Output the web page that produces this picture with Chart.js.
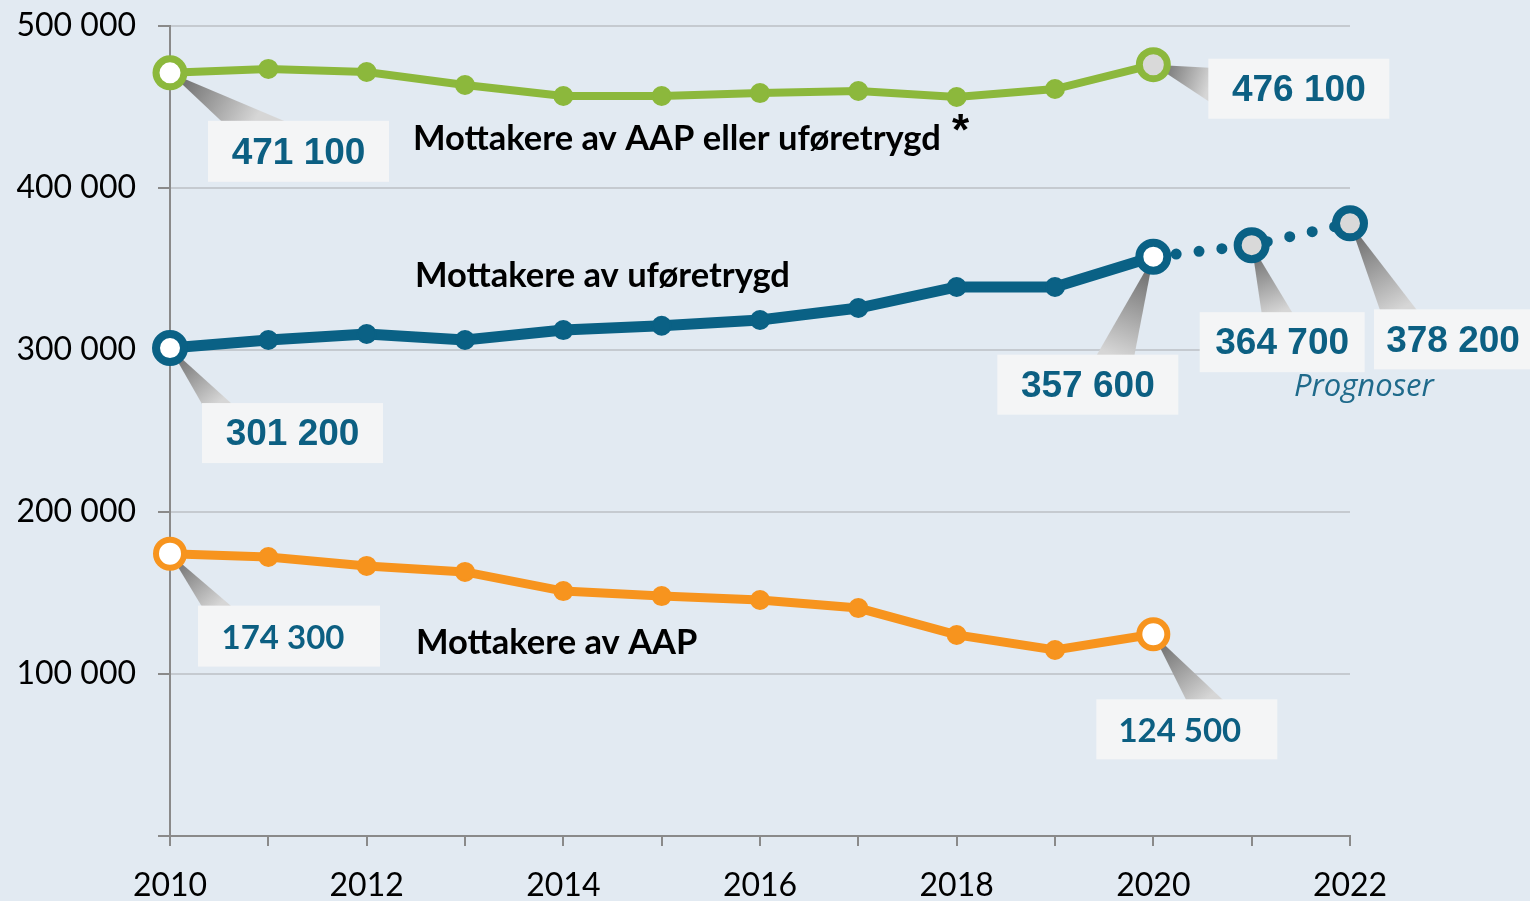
<!DOCTYPE html>
<html lang="no">
<head>
<meta charset="utf-8">
<title>Mottakere av AAP og uføretrygd</title>
<script src="https://cdn.jsdelivr.net/npm/chart.js@4.4.1/dist/chart.umd.min.js"></script>
<style>
  html, body { margin: 0; padding: 0; background: #e2eaf2; }
  #wrap { width: 1530px; height: 901px; position: relative; }
</style>
</head>
<body>
<div id="wrap"><canvas id="chart"></canvas></div>
<script>
// ===== Data =====
const years = ['2010', '2011', '2012', '2013', '2014', '2015', '2016', '2017', '2018', '2019', '2020', '2021', '2022'];
const aapEllerUfore = [471100, 473500, 471600, 463600, 456800, 456800, 458600, 459900, 456200, 461100, 476100];
const uforetrygd = [301200, 306200, 309900, 306200, 312300, 315000, 318500, 325900, 338900, 338900, 357600];
const prognose = [null, null, null, null, null, null, null, null, null, null, 357600, 364700, 378200];
const aap = [174300, 172200, 166700, 163000, 151200, 148100, 145700, 140700, 124100, 114800, 124500];
const yTicks = [0, 100000, 200000, 300000, 400000, 500000];

const GREEN = '#8cb83c';
const BLUE = '#0a6185';
const ORANGE = '#f7941e';
const VALUE_TEXT = '#0c5f82';

const fmt = v => String(v).replace(/\B(?=(\d{3})+(?!\d))/g, ' ');

// per-point marker styling: hollow rings at the ends, filled dots between
function ends(arr, first, last, mid) {
    return arr.map((v, i) => i === 0 ? first : (i === arr.length - 1 ? last : mid));
}

// ===== Callouts (boxes with a pointer towards the marker) =====
// box: offset from the marker [dx, dy, w, h]; base: pointer foot along the box edge
const callouts = [
    { ds: 0, i: 0,  box: [38, 48, 181, 61],   edge: 'top',  base: [14, 78], font: 'bold 37px "Liberation Sans"' },
    { ds: 0, i: 10, box: [55, -6, 181, 60],   edge: 'left', base: [9, 43],  font: 'bold 37px "Liberation Sans"' },
    { ds: 1, i: 0,  box: [32, 55, 181, 60],   edge: 'top',  base: [0, 30],  font: 'bold 37px "Liberation Sans"' },
    { ds: 1, i: 10, box: [-156, 98, 181, 60], edge: 'top',  base: [99, 137], font: 'bold 37px "Liberation Sans"' },
    { ds: 2, i: 11, box: [-52, 67, 165, 60],  edge: 'top',  base: [62, 93], font: 'bold 37px "Liberation Sans"' },
    { ds: 2, i: 12, box: [24, 86, 158, 60],   edge: 'top',  base: [6, 43],  font: 'bold 37px "Liberation Sans"' },
    { ds: 3, i: 0,  box: [28, 52, 182, 61],   edge: 'top',  base: [4, 34],  font: 'bold 33px Lato', dx: -6 },
    { ds: 3, i: 10, box: [-57, 65, 181, 60],  edge: 'top',  base: [90, 127], font: 'bold 33px Lato', dx: -7 }
];

const calloutPlugin = {
    id: 'callouts',
    beforeDatasetsDraw(chart) {
        const ctx = chart.ctx;
        ctx.save();
        callouts.forEach(c => {
            const pt = chart.getDatasetMeta(c.ds).data[c.i];
            const bx = pt.x + c.box[0], by = pt.y + c.box[1];
            const [w, h] = [c.box[2], c.box[3]];
            let b1, b2;
            if (c.edge === 'top') {
                b1 = [bx + c.base[0], by + 1];
                b2 = [bx + c.base[1], by + 1];
            } else {
                b1 = [bx + 1, by + c.base[0]];
                b2 = [bx + 1, by + c.base[1]];
            }
            const mx = (b1[0] + b2[0]) / 2, my = (b1[1] + b2[1]) / 2;
            const grad = ctx.createLinearGradient(pt.x, pt.y, mx, my);
            grad.addColorStop(0, '#5f5f5f');
            grad.addColorStop(1, '#d6d6d6');
            ctx.fillStyle = grad;
            ctx.beginPath();
            ctx.moveTo(pt.x, pt.y);
            ctx.lineTo(b1[0], b1[1]);
            ctx.lineTo(b2[0], b2[1]);
            ctx.closePath();
            ctx.fill();

            ctx.fillStyle = '#f4f5f6';
            ctx.fillRect(bx, by, w, h);

            const value = chart.data.datasets[c.ds].data[c.i];
            ctx.font = c.font;
            ctx.fillStyle = VALUE_TEXT;
            ctx.textAlign = 'center';
            ctx.textBaseline = 'middle';
            ctx.fillText(fmt(value), bx + w / 2 + (c.dx || 0), by + h / 2 + 2);
        });
        ctx.restore();
    },
    afterDatasetsDraw(chart) {
        const ctx = chart.ctx;
        ctx.save();
        ctx.fillStyle = '#000';
        ctx.textBaseline = 'middle';
        ctx.textAlign = 'left';
        ctx.font = 'bold 34.5px Lato';
        ctx.fillText('Mottakere av AAP eller uføretrygd', 413, 139);
        ctx.fillText('Mottakere av uføretrygd', 415, 276);
        ctx.fillText('Mottakere av AAP', 416, 643);
        ctx.textBaseline = 'alphabetic';
        ctx.font = 'bold 44px "Liberation Sans"';
        ctx.fillText('*', 952, 145);
        ctx.textBaseline = 'middle';
        ctx.font = 'italic 31px "Open Sans"';
        ctx.fillStyle = '#1f6a8b';
        ctx.fillText('Prognoser', 1294, 387);
        ctx.restore();
    }
};

Chart.defaults.font.family = 'Lato';
Chart.defaults.color = '#000';

new Chart(document.getElementById('chart').getContext('2d'), {
    type: 'line',
    data: {
        labels: years,
        datasets: [
            {
                label: 'Mottakere av AAP eller uføretrygd',
                data: aapEllerUfore,
                borderColor: GREEN,
                borderWidth: 8,
                pointBorderColor: GREEN,
                pointRadius: ends(aapEllerUfore, 14, 14, 9),
                pointBorderWidth: ends(aapEllerUfore, 7, 7, 2),
                pointBackgroundColor: ends(aapEllerUfore, '#ffffff', '#d9d9d9', GREEN),
            },
            {
                label: 'Mottakere av uføretrygd',
                data: uforetrygd,
                borderColor: BLUE,
                borderWidth: 11,
                pointBorderColor: BLUE,
                pointRadius: ends(uforetrygd, 14, 14, 9),
                pointBorderWidth: ends(uforetrygd, 8, 8, 2),
                pointBackgroundColor: ends(uforetrygd, '#ffffff', '#ffffff', BLUE),
            },
            {
                label: 'Prognoser',
                data: prognose,
                borderColor: BLUE,
                borderWidth: 11,
                borderDash: [0, 23],
                borderCapStyle: 'round',
                pointBorderColor: BLUE,
                pointRadius: prognose.map((v, i) => i > 10 ? 14 : 0),
                pointBorderWidth: 8,
                pointBackgroundColor: '#d9d9d9',
            },
            {
                label: 'Mottakere av AAP',
                data: aap,
                borderColor: ORANGE,
                borderWidth: 9,
                pointBorderColor: ORANGE,
                pointRadius: ends(aap, 14, 14, 9),
                pointBorderWidth: ends(aap, 6, 6, 2),
                pointBackgroundColor: ends(aap, '#ffffff', '#ffffff', ORANGE),
            }
        ]
    },
    options: {
        responsive: true,
        maintainAspectRatio: false,
        animation: false,
        events: [],
        layout: { padding: { top: 26, right: 180, left: 0, bottom: 0 } },
        plugins: {
            legend: { display: false },
            tooltip: { enabled: false }
        },
        scales: {
            x: {
                offset: false,
                ticks: {
                    autoSkip: false,
                    maxRotation: 0,
                    padding: 20,
                    font: { size: 32 },
                    color: '#000',
                    callback: (v, i) => i % 2 === 0 ? years[i] : ''
                },
                grid: {
                    drawOnChartArea: false,
                    tickLength: 10,
                    tickColor: '#8a8a8a',
                    lineWidth: 2
                },
                border: { color: '#8a8a8a', width: 2 },
                afterFit: s => { s.height = 65; s.paddingLeft = 0; s.paddingRight = 0; }
            },
            y: {
                min: 0,
                max: 500000,
                afterBuildTicks: s => { s.ticks = yTicks.map(v => ({ value: v })); },
                ticks: {
                    padding: 22,
                    font: { size: 32 },
                    color: '#000',
                    callback: v => v === 0 ? '' : fmt(v)
                },
                grid: {
                    color: '#c5cad0',
                    lineWidth: 2,
                    tickLength: 12,
                    tickColor: '#8a8a8a'
                },
                border: { color: '#8a8a8a', width: 2 },
                afterFit: s => { s.width = 170; s.paddingTop = 0; s.paddingBottom = 0; }
            }
        }
    },
    plugins: [calloutPlugin]
});
</script>
</body>
</html>
